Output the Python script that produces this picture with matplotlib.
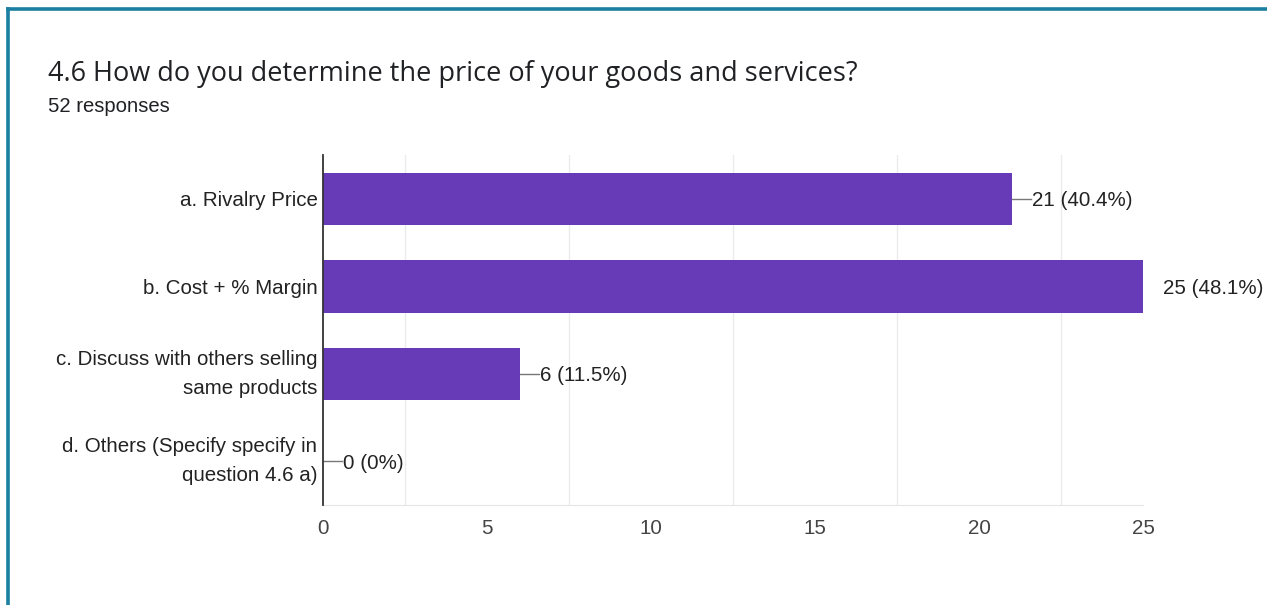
import matplotlib.pyplot as plt
from matplotlib.lines import Line2D
import numpy as np

categories = ["a. Rivalry Price",
              "b. Cost + % Margin",
              "c. Discuss with others selling\nsame products",
              "d. Others (Specify specify in\nquestion 4.6 a)"]
counts = [21, 25, 6, 0]
total = 52
xticks = [0, 5, 10, 15, 20, 25]

purple = "#673ab7"
W, H = 1267, 605
FS = 14.8

fig = plt.figure(figsize=(W / 100, H / 100), dpi=100)
fig.patch.set_facecolor("white")

# frame lines along the top and left edges
fig.add_artist(Line2D([7.5 / W, 1], [1 - 8.5 / H, 1 - 8.5 / H], color="#1a7fa0", lw=2.6))
fig.add_artist(Line2D([7.5 / W, 7.5 / W], [0, 1 - 8.5 / H], color="#1a7fa0", lw=2.6))

fig.text(48 / W, 1 - 74 / H, "4.6 How do you determine the price of your goods and services?",
         fontsize=19.5, family="Open Sans", color="#202124", va="center")
fig.text(48 / W, 1 - 106 / H, "52 responses", fontsize=14.6, family="Liberation Sans",
         color="#202124", va="center")

ax = fig.add_axes([323 / W, 1 - 505 / H, 820 / W, 350 / H])
y = np.arange(len(categories))
ax.barh(y, counts, height=0.6, color=purple, zorder=3)
ax.set_ylim(len(categories) - 0.5, -0.5)
ax.set_xlim(0, 25)

ax.set_yticks(y)
ax.set_yticklabels(categories, family="Liberation Sans", fontsize=FS, color="#222222",
                   linespacing=1.65)
for lab in ax.get_yticklabels():
    if "\n" in lab.get_text():
        lab.set_va("center")
ax.set_xticks(xticks)
ax.set_xticklabels([str(t) for t in xticks], family="Liberation Sans", fontsize=FS,
                   color="#444444")
ax.tick_params(axis="y", length=0, pad=4)
ax.tick_params(axis="x", length=0, pad=10)

ax.set_xticks(np.arange(0, 25.1, 2.5), minor=True)
ax.grid(axis="x", which="minor", color="#ebebeb", lw=1, zorder=0)
ax.tick_params(axis="x", which="minor", length=0)

for s in ["top", "right"]:
    ax.spines[s].set_visible(False)
ax.spines["bottom"].set_color("#e6e6e6")
ax.spines["left"].set_color("#333333")
ax.spines["left"].set_linewidth(1.3)
ax.spines["left"].set_zorder(4)

# value labels with short leader lines
for yi, c in zip(y, counts):
    label = f"{c} ({c / total * 100:.1f}%)" if c else "0 (0%)"
    if c < max(counts):
        ax.plot([c, c + 0.58], [yi, yi], color="#777777", lw=1, zorder=4, clip_on=False)
        ax.text(c + 0.62, yi, label, va="center_baseline", ha="left", fontsize=FS,
                family="Liberation Sans", color="#222222", clip_on=False)
    else:
        ax.text(c + 0.6, yi, label, va="center_baseline", ha="left", fontsize=FS,
                family="Liberation Sans", color="#222222", clip_on=False)

fig.savefig("out.png", dpi=100)
